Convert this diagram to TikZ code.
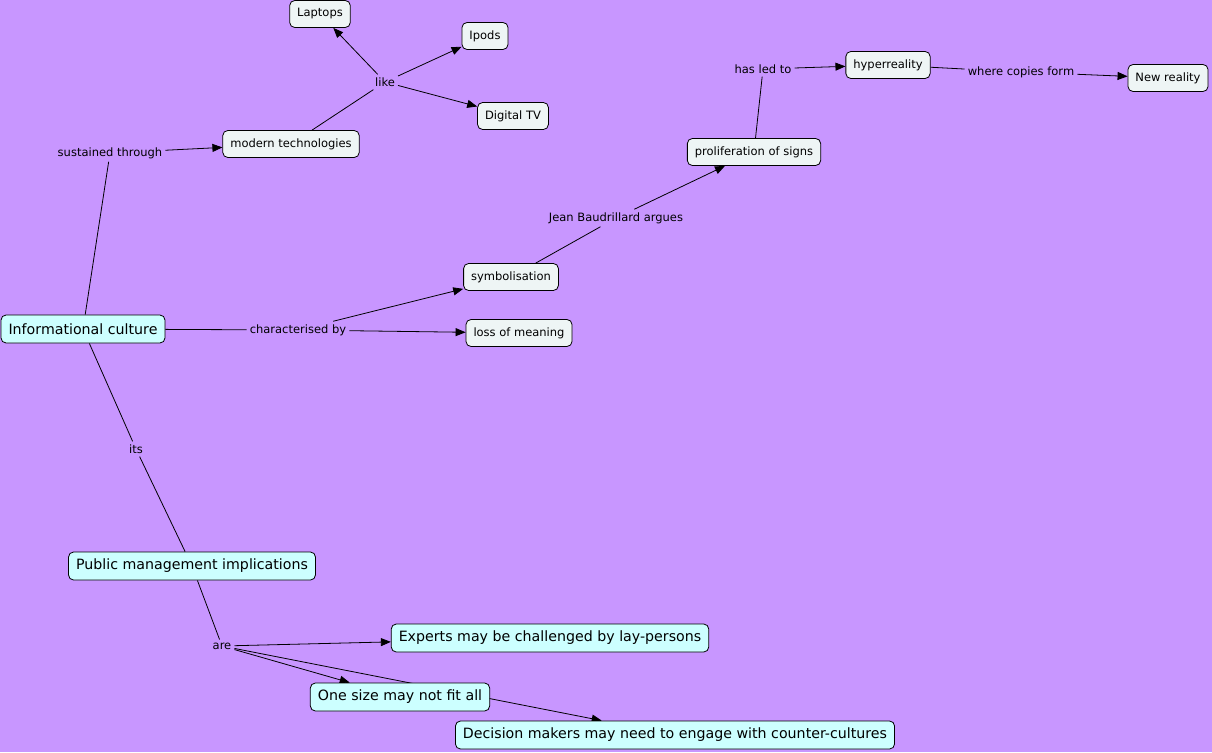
\documentclass[tikz,border=0pt]{standalone}
\usepackage{fontspec}
\setmainfont{DejaVu Sans}
\usetikzlibrary{arrows.meta,backgrounds}
\definecolor{mapbg}{RGB}{200,150,255}
\definecolor{conceptfill}{RGB}{238,245,245}
\definecolor{keyfill}{RGB}{204,255,255}
\begin{document}
\begin{tikzpicture}[x=1pt,y=-1pt,
  concept/.style={draw,line width=0.8pt,rounded corners=5pt,fill=conceptfill,
    font=\fontsize{11.5}{13}\selectfont,inner xsep=7.5pt,inner ysep=0pt,minimum height=27pt},
  key/.style={concept,fill=keyfill,font=\fontsize{14.2}{16}\selectfont,minimum height=28pt},
  link/.style={font=\fontsize{11.5}{13}\selectfont,inner sep=3pt},
  conn/.style={line width=0.8pt},
  arr/.style={conn,-{Triangle[length=10pt,width=8pt]}}]
  \node[concept] (laptops) at (320,14) {Laptops};
  \node[concept] (ipods) at (485,36) {Ipods};
  \node[concept] (dtv) at (513,116) {Digital TV};
  \node[link] (like) at (385,82) {like};
  \node[concept] (modtech) at (291,144) {modern technologies};
  \node[link] (sustained) at (110,153) {sustained through};
  \node[key] (info) at (83,329) {Informational culture};
  \node[link] (charby) at (298,330) {characterised by};
  \node[concept] (symbol) at (511,277) {symbolisation};
  \node[concept] (loss) at (519,333) {loss of meaning};
  \node[link] (jean) at (616,218) {Jean Baudrillard argues};
  \node[concept] (prolif) at (754,152) {proliferation of signs};
  \node[link] (ledto) at (763,69) {has led to};
  \node[concept] (hyper) at (888,65) {hyperreality};
  \node[link] (copies) at (1021,72) {where copies form};
  \node[concept] (newreal) at (1168,78) {New reality};
  \node[link] (its) at (136,449) {its};
  \node[key] (pubman) at (192,566) {Public management implications};
  \node[link] (are) at (222,646) {are};
  \node[key] (experts) at (550,638) {Experts may be challenged by lay-persons};
  \node[key] (onesize) at (400,697) {One size may not fit all};
  \node[key] (decision) at (675,735) {Decision makers may need to engage with counter-cultures};
  \begin{pgfonlayer}{background}
    \fill[mapbg] (0,0) rectangle (1212,752);
    \draw[conn] (info) -- (sustained);
    \draw[arr] (sustained) -- (modtech);
    \draw[conn] (modtech) -- (like);
    \draw[arr] (like) -- (laptops);
    \draw[arr] (like) -- (ipods);
    \draw[arr] (like) -- (dtv);
    \draw[conn] (info) -- (charby);
    \draw[arr] (charby) -- (symbol);
    \draw[arr] (charby) -- (loss);
    \draw[conn] (symbol) -- (jean);
    \draw[arr] (jean) -- (prolif);
    \draw[conn] (prolif) -- (ledto);
    \draw[arr] (ledto) -- (hyper);
    \draw[conn] (hyper) -- (copies);
    \draw[arr] (copies) -- (newreal);
    \draw[conn] (info) -- (its);
    \draw[conn] (its) -- (pubman);
    \draw[conn] (pubman) -- (are);
    \draw[arr] (are) -- (experts);
    \draw[arr] (are) -- (onesize);
    \draw[arr] (are) -- (decision);
  \end{pgfonlayer}
\end{tikzpicture}
\end{document}
